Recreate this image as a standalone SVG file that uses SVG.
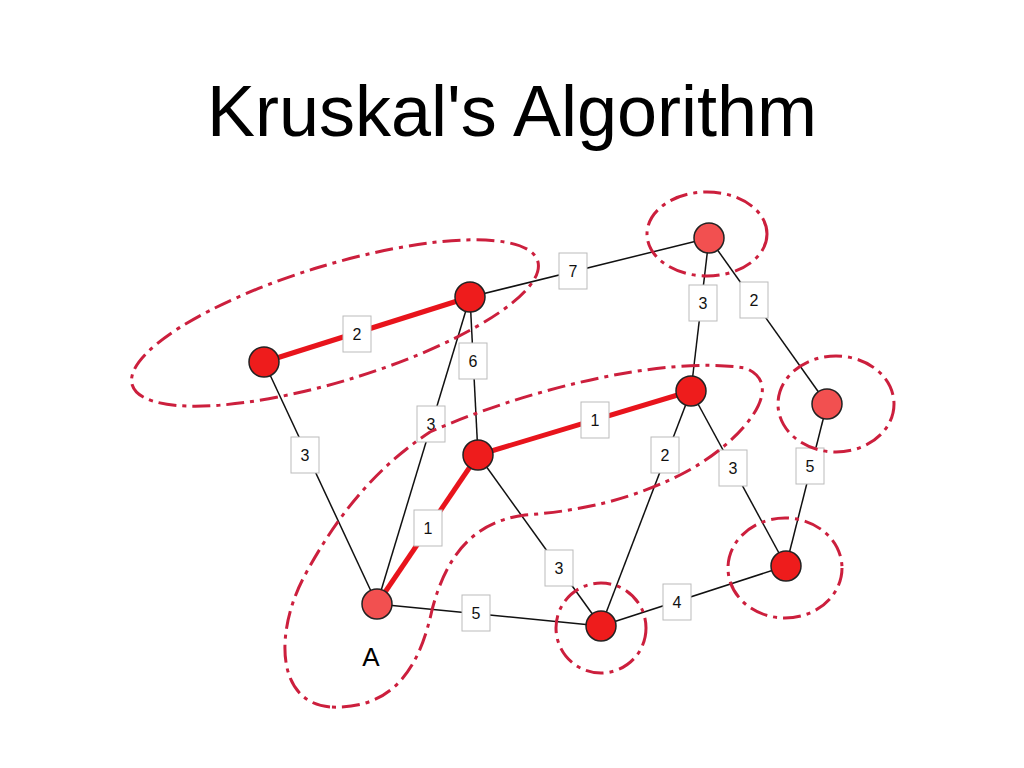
<svg xmlns="http://www.w3.org/2000/svg" width="1024" height="768" viewBox="0 0 1024 768">
<style>
.e{stroke:#111;stroke-width:1.5;fill:none}
.r{stroke:#e8141c;stroke-width:5;fill:none}
.d{stroke:#cc1f3d;stroke-width:3;fill:none;stroke-dasharray:18 6 4 6}
.n{fill:#ee1c1c;stroke:#222;stroke-width:1.5}
.l{fill:#f25050;stroke:#222;stroke-width:1.5}
.b{fill:#fff;stroke:#bbb;stroke-width:1}
.t{font-family:"Liberation Sans",Arial,sans-serif;font-size:16px;text-anchor:middle;fill:#111}
</style>
<rect width="1024" height="768" fill="#fff"/>
<text x="512" y="136" font-family="Liberation Sans,Arial,sans-serif" font-size="72" text-anchor="middle" fill="#000">Kruskal's Algorithm</text>
<g id="connectors">
<line class="e" x1="470" y1="297" x2="709" y2="238"/>
<line class="e" x1="470" y1="297" x2="478" y2="455"/>
<line class="e" x1="470" y1="297" x2="377" y2="604"/>
<line class="e" x1="264" y1="362" x2="377" y2="604"/>
<line class="e" x1="709" y1="238" x2="691" y2="391"/>
<line class="e" x1="709" y1="238" x2="827" y2="404"/>
<line class="e" x1="478" y1="455" x2="601" y2="626"/>
<line class="e" x1="691" y1="391" x2="601" y2="626"/>
<line class="e" x1="691" y1="391" x2="786" y2="566"/>
<line class="e" x1="827" y1="404" x2="786" y2="566"/>
<line class="e" x1="377" y1="604" x2="601" y2="626"/>
<line class="e" x1="601" y1="626" x2="786" y2="566"/>
<line class="r" x1="264" y1="362" x2="470" y2="297"/>
<line class="r" x1="478" y1="455" x2="691" y2="391"/>
<line class="r" x1="478" y1="455" x2="377" y2="604"/>
</g>
<g id="labels">
<rect class="b" x="343" y="316" width="28" height="36"/><text class="t" x="357" y="340">2</text>
<rect class="b" x="559" y="253" width="28" height="36"/><text class="t" x="573" y="277">7</text>
<rect class="b" x="459" y="343" width="28" height="36"/><text class="t" x="473" y="367">6</text>
<rect class="b" x="417" y="406" width="28" height="36"/><text class="t" x="431" y="430">3</text>
<rect class="b" x="291" y="437" width="28" height="36"/><text class="t" x="305" y="461">3</text>
<rect class="b" x="689" y="285" width="28" height="36"/><text class="t" x="703" y="309">3</text>
<rect class="b" x="740" y="282" width="28" height="36"/><text class="t" x="754" y="306">2</text>
<rect class="b" x="581" y="402" width="28" height="36"/><text class="t" x="595" y="426">1</text>
<rect class="b" x="414" y="510" width="28" height="36"/><text class="t" x="428" y="534">1</text>
<rect class="b" x="545" y="550" width="28" height="36"/><text class="t" x="559" y="574">3</text>
<rect class="b" x="651" y="437" width="28" height="36"/><text class="t" x="665" y="461">2</text>
<rect class="b" x="719" y="450" width="28" height="36"/><text class="t" x="733" y="474">3</text>
<rect class="b" x="796" y="448" width="28" height="36"/><text class="t" x="810" y="472">5</text>
<rect class="b" x="462" y="595" width="28" height="36"/><text class="t" x="476" y="619">5</text>
<rect class="b" x="663" y="584" width="28" height="36"/><text class="t" x="677" y="608">4</text>
</g>
<g id="clusters">
<ellipse class="d" cx="335" cy="323" rx="212" ry="58" transform="rotate(-17 335 323)"/>
<ellipse class="d" cx="707" cy="234" rx="60" ry="42"/>
<ellipse class="d" cx="836" cy="404" rx="58" ry="48"/>
<ellipse class="d" cx="785" cy="568" rx="57" ry="50"/>
<ellipse class="d" cx="601" cy="628" rx="45" ry="45"/>
<path class="d" d="M330,707 C275,702 275,630 305,575 C340,510 380,465 430,432 C520,392 660,355 745,368 C790,385 740,445 680,475 C620,505 565,512 525,515 C470,522 445,560 432,610 C420,665 395,710 330,707 Z"/>
</g>
<g id="nodes">
<circle id="n1" class="n" cx="264" cy="362" r="15"/>
<circle id="n2" class="n" cx="470" cy="297" r="15"/>
<circle id="n3" class="l" cx="709" cy="238" r="15"/>
<circle id="n4" class="n" cx="691" cy="391" r="15"/>
<circle id="n5" class="l" cx="827" cy="404" r="15"/>
<circle id="n6" class="n" cx="478" cy="455" r="15"/>
<circle id="n7" class="n" cx="786" cy="566" r="15"/>
<g id="nA"><circle class="l" cx="377" cy="604" r="15"/><text x="371" y="666" font-family="Liberation Sans,Arial,sans-serif" font-size="26" text-anchor="middle">A</text></g>
<circle id="n9" class="n" cx="601" cy="626" r="15"/>
</g>
</svg>
